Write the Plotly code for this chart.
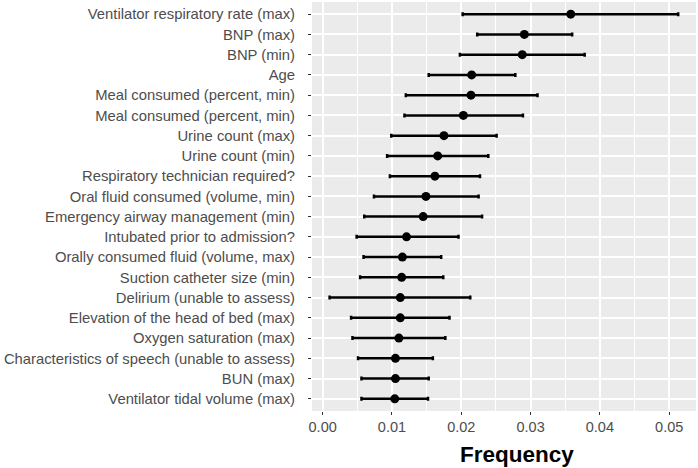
import plotly.graph_objects as go

# features, top to bottom
features = [
    "Ventilator respiratory rate (max)",
    "BNP (max)",
    "BNP (min)",
    "Age",
    "Meal consumed (percent, min)",
    "Meal consumed (percent, min)",
    "Urine count (max)",
    "Urine count (min)",
    "Respiratory technician required?",
    "Oral fluid consumed (volume, min)",
    "Emergency airway management (min)",
    "Intubated prior to admission?",
    "Orally consumed fluid (volume, max)",
    "Suction catheter size (min)",
    "Delirium (unable to assess)",
    "Elevation of the head of bed (max)",
    "Oxygen saturation (max)",
    "Characteristics of speech (unable to assess)",
    "BUN (max)",
    "Ventilator tidal volume (max)",
]

freq = [0.0358, 0.0291, 0.0288, 0.0215, 0.0214, 0.0203, 0.0175, 0.0166,
        0.0162, 0.0149, 0.0145, 0.0121, 0.0115, 0.0114, 0.0112, 0.0112,
        0.0110, 0.0105, 0.0105, 0.0104]
low = [0.0202, 0.0223, 0.0198, 0.0153, 0.0120, 0.0118, 0.0099, 0.0093,
       0.0097, 0.0074, 0.0060, 0.0049, 0.0059, 0.0054, 0.0010, 0.0041,
       0.0043, 0.0051, 0.0056, 0.0056]
high = [0.0513, 0.0360, 0.0378, 0.0278, 0.0310, 0.0289, 0.0251, 0.0239,
        0.0227, 0.0225, 0.0230, 0.0196, 0.0171, 0.0174, 0.0213, 0.0183,
        0.0177, 0.0159, 0.0153, 0.0152]

pos = list(range(1, len(features) + 1))

fig = go.Figure()
fig.add_trace(go.Scatter(
    x=freq,
    y=pos,
    mode="markers",
    marker=dict(color="black", size=9),
    error_x=dict(
        type="data",
        symmetric=False,
        array=[h - f for h, f in zip(high, freq)],
        arrayminus=[f - l for f, l in zip(freq, low)],
        color="black",
        thickness=2.5,
        width=2,
    ),
    showlegend=False,
))

fig.update_layout(
    width=698,
    height=468,
    margin=dict(l=312, r=2, t=2, b=57),
    paper_bgcolor="white",
    plot_bgcolor="#EBEBEB",
    font=dict(family="Liberation Sans, Arial, sans-serif", size=13, color="#4D4D4D"),
    annotations=[dict(
        text="<b>Frequency</b>",
        xref="paper", yref="paper",
        x=0.535, y=0, yshift=-43,
        xanchor="center", yanchor="middle",
        showarrow=False,
        font=dict(size=22.5, color="black"),
    )],
)

fig.update_xaxes(
    range=[-0.00154, 0.05387],
    tickvals=[0, 0.01, 0.02, 0.03, 0.04, 0.05],
    ticktext=["0.00", "0.01", "0.02", "0.03", "0.04", "0.05"],
    showgrid=True, gridcolor="white", gridwidth=1.5,
    minor=dict(tickvals=[0.005, 0.015, 0.025, 0.035, 0.045],
               showgrid=True, gridcolor="white", gridwidth=0.7, ticks=""),
    ticks="outside", ticklen=3, tickcolor="#333333", tickwidth=1,
    zeroline=False, showline=False, automargin=False,
    tickfont=dict(size=14.5, color="#4D4D4D"),
)

fig.update_yaxes(
    range=[len(features) + 0.6, 0.4],
    tickvals=pos,
    ticktext=features,
    showgrid=True, gridcolor="white", gridwidth=1.5,
    ticks="outside", ticklen=3, tickcolor="#333333", tickwidth=1,
    ticklabelstandoff=10,
    zeroline=False, showline=False, automargin=False,
    tickfont=dict(size=14.8, color="#4D4D4D"),
)

# drop the default page margin so the figure sits at the window's corner
fig.write_html(
    "out.html",
    config={"displayModeBar": False},
    post_script="document.body.style.margin='0px';",
)
